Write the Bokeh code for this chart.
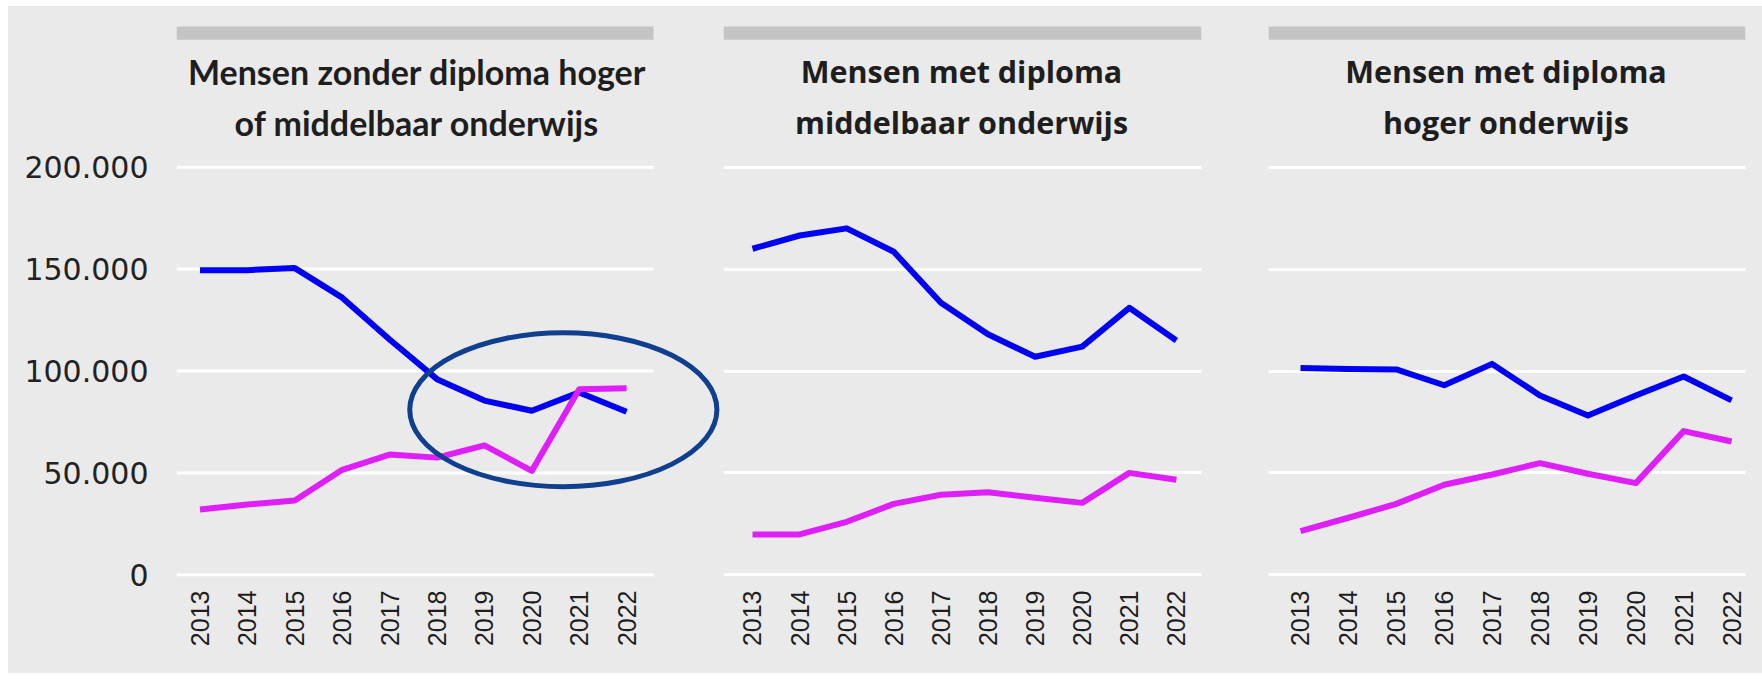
from math import pi
from bokeh.plotting import figure
from bokeh.layouts import row
from bokeh.models import ColumnDataSource, FixedTicker, Label, BoxAnnotation, Range1d
from bokeh.embed import file_html
from bokeh.resources import INLINE

# ---------------- data ----------------
years = [2013, 2014, 2015, 2016, 2017, 2018, 2019, 2020, 2021, 2022]
x_tick_labels = ["2013", "2014", "2015", "2016", "2017", "2018", "2019", "2020", "2021", "2022"]
y_ticks = [0, 50000, 100000, 150000, 200000]
y_tick_labels = ["0", "50.000", "100.000", "150.000", "200.000"]

# blue series and magenta series for each panel
zonder_blue = [149500, 149500, 150500, 136000, 115500, 96000, 85500, 80500, 89500, 80000]
zonder_magenta = [32000, 34500, 36500, 51500, 59000, 57500, 63500, 51000, 91000, 91500]
middelbaar_blue = [160000, 166500, 170000, 158500, 133500, 118000, 107000, 112000, 131000, 115000]
middelbaar_magenta = [19800, 19800, 26000, 34800, 39300, 40500, 37800, 35300, 50000, 46600]
hoger_blue = [101500, 101000, 100800, 93000, 103500, 88000, 78200, 88000, 97300, 85600]
hoger_magenta = [21400, 28000, 34800, 44200, 49200, 54800, 49600, 45000, 70500, 65400]

titles = [
    ("Mensen zonder diploma hoger", "of middelbaar onderwijs"),
    ("Mensen met diploma", "middelbaar onderwijs"),
    ("Mensen met diploma", "hoger onderwijs"),
]

# highlighted region (ellipse) in first panel, data units
ellipse_x = 2020.665
ellipse_y = 81000
ellipse_w = 6.48
ellipse_h = 75500

# ---------------- style ----------------
BG = "#eaeaea"
BLUE = "#0000f4"
MAGENTA = "#df1ff8"
BAR = "#c4c4c4"
ELLIPSE = "#0f3f8e"
TEXT = "#1e1e1e"

Y_START, Y_END = -6724, 274945
FRAME_H = 574
TOP_BORDER, BOTTOM_BORDER = 8, 85
LINE1_Y, LINE2_Y = 247065, 222185
BAR_TOP, BAR_BOTTOM = 269050, 262530


def make_panel(blue, magenta, title, x_start, x_end, left_b, frame_w, right_b,
               show_y, title_x, title_font, title_size, grid_end=None):
    p = figure(
        output_backend="svg", toolbar_location=None,
        frame_width=frame_w, frame_height=FRAME_H,
        min_border_left=left_b, min_border_right=right_b,
        min_border_top=TOP_BORDER, min_border_bottom=BOTTOM_BORDER,
        x_range=Range1d(x_start, x_end), y_range=Range1d(Y_START, Y_END),
        y_axis_location="left" if show_y else None,
        background_fill_color=None, border_fill_color=BG,
        outline_line_color=None,
    )
    p.xgrid.visible = False
    if grid_end is None:
        p.ygrid.ticker = FixedTicker(ticks=y_ticks)
        p.ygrid.grid_line_color = "white"
        p.ygrid.grid_line_width = 3
    else:
        p.ygrid.visible = False
        gsrc = ColumnDataSource(dict(
            x0=[x_start] * len(y_ticks), x1=[grid_end] * len(y_ticks),
            y=y_ticks))
        p.segment(x0="x0", x1="x1", y0="y", y1="y", source=gsrc,
                  line_color="white", line_width=3)

    # x axis
    xa = p.xaxis[0]
    xa.ticker = FixedTicker(ticks=years)
    xa.major_label_overrides = {y: l for y, l in zip(years, x_tick_labels)}
    xa.major_label_orientation = pi / 2
    xa.axis_line_color = None
    xa.major_tick_line_color = None
    xa.minor_tick_line_color = None
    xa.major_tick_out = 0
    xa.major_tick_in = 0
    xa.major_label_standoff = 2
    xa.major_label_text_font = "Liberation Sans"
    xa.major_label_text_font_size = "25px"
    xa.major_label_text_color = TEXT

    if show_y:
        ya = p.yaxis[0]
        ya.ticker = FixedTicker(ticks=y_ticks)
        ya.major_label_overrides = {t: l for t, l in zip(y_ticks, y_tick_labels)}
        ya.axis_line_color = None
        ya.major_tick_line_color = None
        ya.minor_tick_line_color = None
        ya.major_tick_out = 0
        ya.major_tick_in = 0
        ya.major_label_standoff = 28
        ya.major_label_text_font = "DejaVu Sans"
        ya.major_label_text_font_size = "30px"
        ya.major_label_text_color = "#222222"

    src = ColumnDataSource(dict(x=years, blue=blue, magenta=magenta))
    p.line("x", "blue", source=src, line_color=BLUE, line_width=6,
           line_join="round")
    p.line("x", "magenta", source=src, line_color=MAGENTA, line_width=6,
           line_join="round")

    bar = BoxAnnotation(left=x_start, right=grid_end if grid_end else x_end,
                        top=BAR_TOP, bottom=BAR_BOTTOM,
                        fill_color=BAR, fill_alpha=1.0, line_color=None,
                        level="underlay")
    p.add_layout(bar)
    for txt, yy in zip(title, (LINE1_Y, LINE2_Y)):
        p.add_layout(Label(x=title_x, y=yy, text=txt, text_align="center",
                           text_baseline="alphabetic", text_font=title_font,
                           text_font_size=title_size, text_font_style="bold",
                           text_color=TEXT))
    return p


p1 = make_panel(zonder_blue, zonder_magenta, titles[0],
                2012.5042, 2024.002, 168, 545, 0, True, 2017.578,
                "Lato", "34px", grid_end=2022.5675)
p1.ellipse(x=[ellipse_x], y=[ellipse_y], width=[ellipse_w], height=[ellipse_h],
           fill_color=None, line_color=ELLIPSE, line_width=5)

p2 = make_panel(middelbaar_blue, middelbaar_magenta, titles[1],
                2012.3843, 2022.533, 2, 478, 67, False, 2017.4375,
                "Open Sans", "30.5px")
p3 = make_panel(hoger_blue, hoger_magenta, titles[2],
                2012.332, 2022.29, 0, 477, 17, False, 2017.29,
                "Open Sans", "30.5px")

layout = row(p1, p2, p3, margin=(6, 0, 0, 8), styles={"background-color": BG})
open("out.html", "w").write(file_html(layout, INLINE))
